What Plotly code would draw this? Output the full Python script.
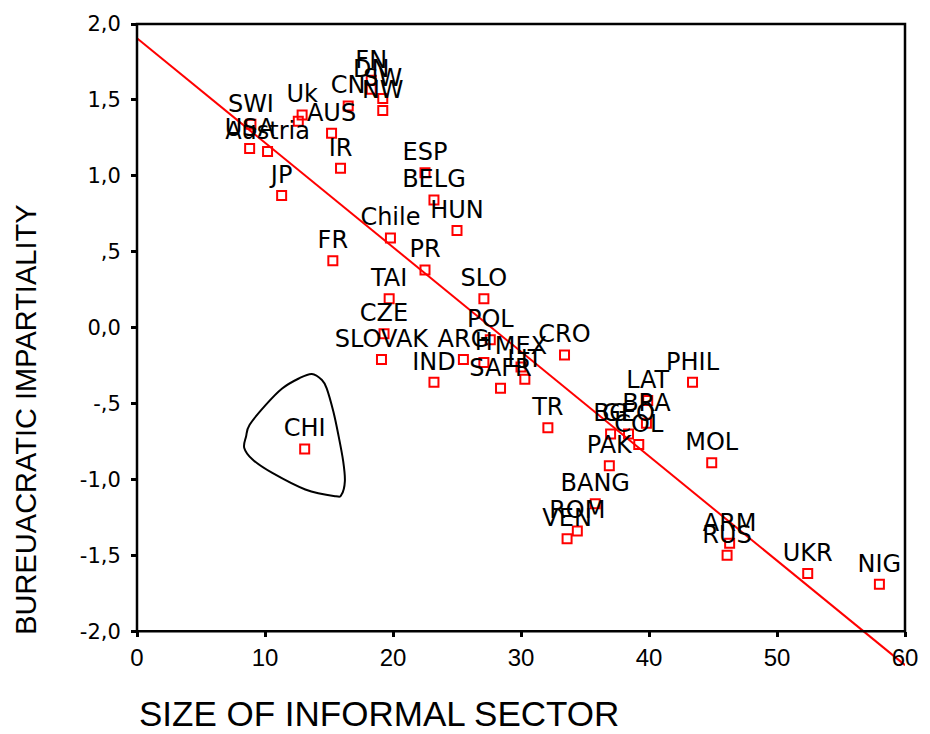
import numpy as np
import plotly.graph_objects as go

# ---- data ----
countries = ["FN", "DN", "SW", "NW", "CN", "Uk", "", "AUS", "SWI", "USA", "Austria",
             "IR", "JP", "ESP", "BELG", "HUN", "Chile", "FR", "PR", "TAI", "SLO",
             "CZE", "POL", "SLOVAK", "ARG", "H", "MEX", "LIT", "SAFR", "IND", "CRO",
             "TR", "PHIL", "LAT", "BRA", "BG", "GEO", "COL", "PAK", "MOL", "BANG",
             "ROM", "VEN", "ARM", "RUS", "UKR", "NIG", "CHI"]
informal = [18.3, 18.3, 19.2, 19.2, 16.5, 12.9, 12.6, 15.2, 8.9, 8.8, 10.2,
            15.9, 11.3, 22.5, 23.2, 25.0, 19.8, 15.3, 22.5, 19.7, 27.1,
            19.3, 27.6, 19.1, 25.5, 27.1, 30.0, 30.3, 28.4, 23.2, 33.4,
            32.1, 43.4, 39.9, 39.8, 37.0, 38.4, 39.2, 36.9, 44.9, 35.8,
            34.4, 33.6, 46.3, 46.1, 52.4, 58.0, 13.1]
impartiality = [1.63, 1.57, 1.51, 1.43, 1.46, 1.40, 1.36, 1.28, 1.34, 1.18, 1.16,
                1.05, 0.87, 1.02, 0.84, 0.64, 0.59, 0.44, 0.38, 0.19, 0.19,
                -0.04, -0.08, -0.21, -0.21, -0.23, -0.26, -0.34, -0.40, -0.36, -0.18,
                -0.66, -0.36, -0.48, -0.63, -0.70, -0.70, -0.77, -0.91, -0.89, -1.16,
                -1.34, -1.39, -1.42, -1.50, -1.62, -1.69, -0.80]

x_ticks = [0, 10, 20, 30, 40, 50, 60]
y_ticks = [-2.0, -1.5, -1.0, -0.5, 0.0, 0.5, 1.0, 1.5, 2.0]
y_ticktext = ["-2,0", "-1,5", "-1,0", "-,5", "0,0", ",5", "1,0", "1,5", "2,0"]

# outline drawn round the CHI point (data units)
outline_x = [13.66, 14.45, 14.82, 15.34, 15.73, 16.11, 16.24, 15.98, 15.47, 13.15,
             10.57, 9.03, 8.38, 8.52, 8.80, 10.06, 11.34, 12.64]
outline_y = [-0.305, -0.345, -0.40, -0.553, -0.706, -0.881, -1.011, -1.099, -1.110, -1.066,
             -0.957, -0.869, -0.793, -0.717, -0.640, -0.509, -0.401, -0.335]

X_RANGE = [0, 60]
Y_RANGE = [-2.0, 2.0]

# ---- layout geometry ----
W, H = 930, 734
ML, MR, MT, MB = 137, 17, 20, 60
plot_h = H - MT - MB
axis_bottom_px = 631
frame_low = (H - MB - axis_bottom_px) / plot_h          # paper fraction of y = -2
px_per_unit = (axis_bottom_px - MT) / (Y_RANGE[1] - Y_RANGE[0])
y_view_low = Y_RANGE[0] - (H - MB - axis_bottom_px) / px_per_unit

LABEL_FONT = "DejaVu Sans, Verdana, sans-serif"
AXIS_FONT = "Liberation Sans, Arial, Helvetica, sans-serif"

# regression line (OLS fit of the data)
slope, intercept = np.polyfit(informal, impartiality, 1)
fit_x = np.array(X_RANGE, dtype=float)
fit_y = intercept + slope * fit_x


def closed_spline_path(xs, ys):
    n = len(xs)
    P = list(zip(xs, ys))
    d = f"M {P[0][0]},{P[0][1]} "
    for i in range(n):
        p0 = P[(i - 1) % n]
        p1 = P[i]
        p2 = P[(i + 1) % n]
        p3 = P[(i + 2) % n]
        c1 = (p1[0] + (p2[0] - p0[0]) / 6, p1[1] + (p2[1] - p0[1]) / 6)
        c2 = (p2[0] - (p3[0] - p1[0]) / 6, p2[1] - (p3[1] - p1[1]) / 6)
        d += f"C {c1[0]},{c1[1]} {c2[0]},{c2[1]} {p2[0]},{p2[1]} "
    return d + "Z"


fig = go.Figure()

fig.add_trace(go.Scatter(
    x=fit_x, y=fit_y, mode="lines",
    line=dict(color="#ff0000", width=2), showlegend=False, hoverinfo="skip",
    cliponaxis=False,
))

fig.add_trace(go.Scatter(
    x=informal, y=impartiality, text=countries,
    mode="markers+text", textposition="top center",
    marker=dict(symbol="square-open", size=9, color="#ff0000",
                line=dict(width=2, color="#ff0000")),
    textfont=dict(family=LABEL_FONT, size=24, color="black"),
    cliponaxis=False, showlegend=False, hoverinfo="skip",
))

# CHI outline
fig.add_shape(type="path", xref="x", yref="y",
              path=closed_spline_path(outline_x, outline_y),
              line=dict(color="black", width=2))

# axes frame (box round the data area, from y=-2 to y=2)
fig.add_shape(type="rect", xref="paper", yref="paper",
              x0=0, x1=1, y0=frame_low, y1=1,
              line=dict(color="black", width=2.5), layer="above")

fig.add_annotation(text="SIZE OF INFORMAL SECTOR", xref="paper", yref="paper",
                   x=0, y=(H - MB - 714) / plot_h, xanchor="left", yanchor="middle",
                   showarrow=False, font=dict(family=AXIS_FONT, size=35, color="black"))
fig.add_annotation(text="BUREUACRATIC IMPARTIALITY", xref="paper", yref="paper",
                   x=(24 - ML) / (W - ML - MR), y=(H - MB - 418) / plot_h,
                   xanchor="center", yanchor="middle", textangle=-90,
                   showarrow=False, font=dict(family=AXIS_FONT, size=29, color="black"))

fig.update_layout(
    width=W, height=H,
    margin=dict(l=ML, r=MR, t=MT, b=MB),
    paper_bgcolor="white", plot_bgcolor="white",
    xaxis=dict(range=X_RANGE, tickvals=x_ticks, showgrid=False, zeroline=False,
               showline=False, anchor="free", position=frame_low,
               ticks="outside", ticklen=5, tickwidth=3, tickcolor="black",
               tickfont=dict(family=AXIS_FONT, size=24, color="black")),
    yaxis=dict(range=[y_view_low, Y_RANGE[1]], tickvals=y_ticks, ticktext=y_ticktext,
               showgrid=False, zeroline=False, showline=False,
               ticks="outside", ticklen=5, tickwidth=3, tickcolor="black",
               tickfont=dict(family=LABEL_FONT, size=21, color="black"),
               ticklabelstandoff=6),
)

fig.write_html("out.html")
